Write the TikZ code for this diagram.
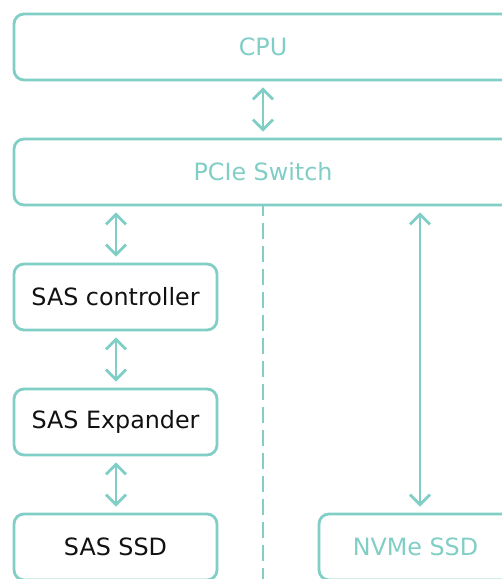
\documentclass[tikz,border=0pt]{standalone}
\usepackage{fontspec}
\setmainfont{DejaVu Sans}
\usetikzlibrary{arrows.meta}
\definecolor{teal1}{RGB}{128,206,198}
\definecolor{ink}{RGB}{17,17,17}
\tikzset{
  box/.style={draw=teal1, line width=2.8pt, rounded corners=10pt, rectangle,
    inner sep=0pt, minimum height=66pt, font=\fontsize{23.8}{28}\selectfont},
  wide/.style={box, minimum width=498pt, text=teal1},
  sas/.style={box, minimum width=203pt, text=ink},
  arr/.style={draw=teal1, line width=2.8pt,
    {Straight Barb[length=10pt,width=20pt]}-{Straight Barb[length=10pt,width=20pt]},
    shorten <=6pt, shorten >=6pt},
  dsh/.style={draw=teal1, line width=2.8pt, dash pattern=on 16pt off 7pt, dash phase=6pt}
}
\begin{document}
\begin{tikzpicture}[x=1pt,y=-1pt]
\useasboundingbox (0,0) rectangle (502,579);
\clip (0,0) rectangle (502,579);
\node[wide] (cpu) at (263,47) {CPU};
\node[wide] (pcie) at (263,172) {PCIe Switch};
\node[sas] (ctrl) at (115.5,297) {SAS controller};
\node[sas] (exp) at (115.5,422) {SAS Expander};
\node[sas] (sasssd) at (115.5,547) {SAS SSD};
\node[box, minimum width=193pt, text=teal1] (nvme) at (415.5,547) {NVMe SSD};
\coordinate (ax) at (116,0);
\coordinate (nx) at (420,0);
\coordinate (dx) at (263,0);
\coordinate (dend) at (263,590);
\draw[arr] (cpu.south) -- (pcie.north);
\draw[arr] (pcie.south -| ax) -- (ctrl.north -| ax);
\draw[arr] (ctrl.south -| ax) -- (exp.north -| ax);
\draw[arr] (exp.south -| ax) -- (sasssd.north -| ax);
\draw[arr] (pcie.south -| nx) -- (nvme.north -| nx);
\draw[dsh] (pcie.south -| dx) -- (dend);
\end{tikzpicture}
\end{document}
